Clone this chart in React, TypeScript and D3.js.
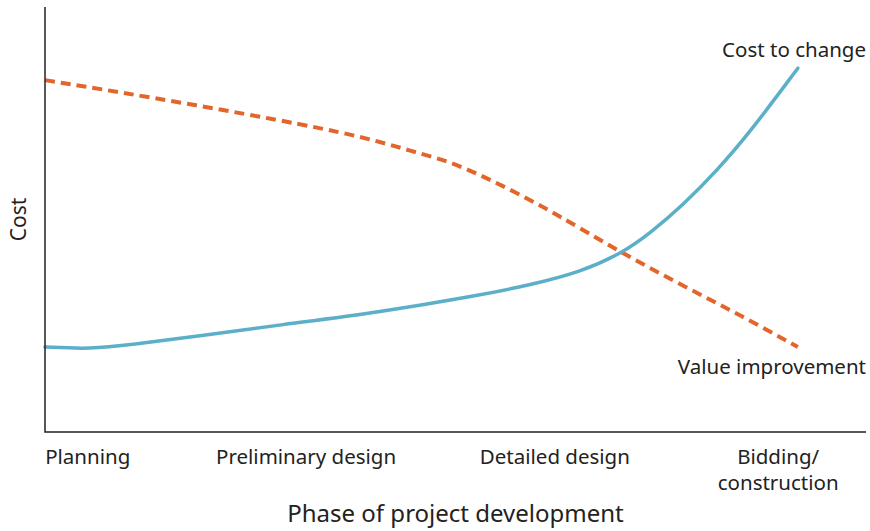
import { useEffect, useRef } from "react";
import * as d3 from "d3";

// phases along the x axis (position in % of project development)
const phases = ["Planning", "Preliminary design", "Detailed design", "Bidding/\nconstruction"];
const phaseAt = [5.2, 31.8, 62.1, 89.3];

// cost to change (blue, solid)
const costX = [0, 5.5, 10.4, 18.9, 28.6, 40.8, 53.0, 59.1, 65.2, 70.3, 73.7, 77.7, 81.9, 85.9, 91.7];
const costY = [20.0, 19.5, 20.5, 22.6, 25.2, 28.2, 32.2, 34.6, 37.6, 42.1, 46.8, 53.4, 61.6, 70.6, 85.6];

// value improvement (orange, dashed)
const valueX = [0, 12.8, 28.6, 38.7, 44.8, 49.0, 53.0, 57.0, 61.1, 64.8, 70.3, 77.7, 84.7, 91.7];
const valueY = [82.8, 78.8, 73.4, 69.5, 66.0, 63.8, 60.5, 56.7, 52.5, 48.4, 42.1, 34.4, 27.5, 20.0];

const App = () => {
  const ref = useRef<SVGSVGElement>(null);

  useEffect(() => {
    const width = 870;
    const height = 531;
    const left = 45, right = 866, top = 7, bottom = 432;
    const font = "'Noto Sans', sans-serif";
    const ink = "#222";

    const svg = d3.select(ref.current).attr("width", width).attr("height", height);
    svg.selectAll("*").remove();

    const x = d3.scaleLinear().domain([0, 100]).range([left, right]);
    const y = d3.scaleLinear().domain([0, 100]).range([bottom, top]);

    const line = d3
      .line<[number, number]>()
      .x((d) => x(d[0]))
      .y((d) => y(d[1]))
      .curve(d3.curveBasis);

    // lines
    svg
      .append("path")
      .attr("d", line(valueX.map((v, i) => [v, valueY[i]])))
      .attr("fill", "none")
      .attr("stroke", "#E2652B")
      .attr("stroke-width", 4)
      .attr("stroke-dasharray", "10,6");

    svg
      .append("path")
      .attr("d", line(costX.map((v, i) => [v, costY[i]])))
      .attr("fill", "none")
      .attr("stroke", "#5BAFC8")
      .attr("stroke-width", 3.5)
      .attr("stroke-linecap", "round");

    // axes (lines only, no ticks)
    svg
      .append("path")
      .attr("d", `M${left},${top}V${bottom}H${right}`)
      .attr("fill", "none")
      .attr("stroke", ink)
      .attr("stroke-width", 1.5);

    // phase labels
    const lab = svg
      .append("g")
      .attr("font-family", font)
      .attr("font-size", 20.5)
      .attr("fill", ink)
      .attr("text-anchor", "middle")
      .selectAll("text")
      .data(phases)
      .join("text")
      .attr("transform", (d, i) => `translate(${x(phaseAt[i])},464)`);
    lab
      .selectAll("tspan")
      .data((d) => d.split("\n"))
      .join("tspan")
      .attr("x", 0)
      .attr("y", (d, i) => i * 26)
      .text((d) => d);

    // axis titles
    svg
      .append("text")
      .attr("x", (left + right) / 2)
      .attr("y", 522)
      .attr("text-anchor", "middle")
      .attr("font-family", font)
      .attr("font-size", 24)
      .attr("fill", ink)
      .text("Phase of project development");

    svg
      .append("text")
      .attr("transform", `translate(26,${(top + bottom) / 2}) rotate(-90)`)
      .attr("text-anchor", "middle")
      .attr("font-family", font)
      .attr("font-size", 21)
      .attr("fill", ink)
      .text("Cost");

    // series labels
    svg
      .append("text")
      .attr("x", right)
      .attr("y", 57)
      .attr("text-anchor", "end")
      .attr("font-family", font)
      .attr("font-size", 20.5)
      .attr("fill", ink)
      .text("Cost to change");

    svg
      .append("text")
      .attr("x", right)
      .attr("y", 374)
      .attr("text-anchor", "end")
      .attr("font-family", font)
      .attr("font-size", 20.5)
      .attr("fill", ink)
      .text("Value improvement");
  }, []);

  return <svg ref={ref} style={{ position: "absolute", left: 0, top: 0 }} />;
};

export default App;
